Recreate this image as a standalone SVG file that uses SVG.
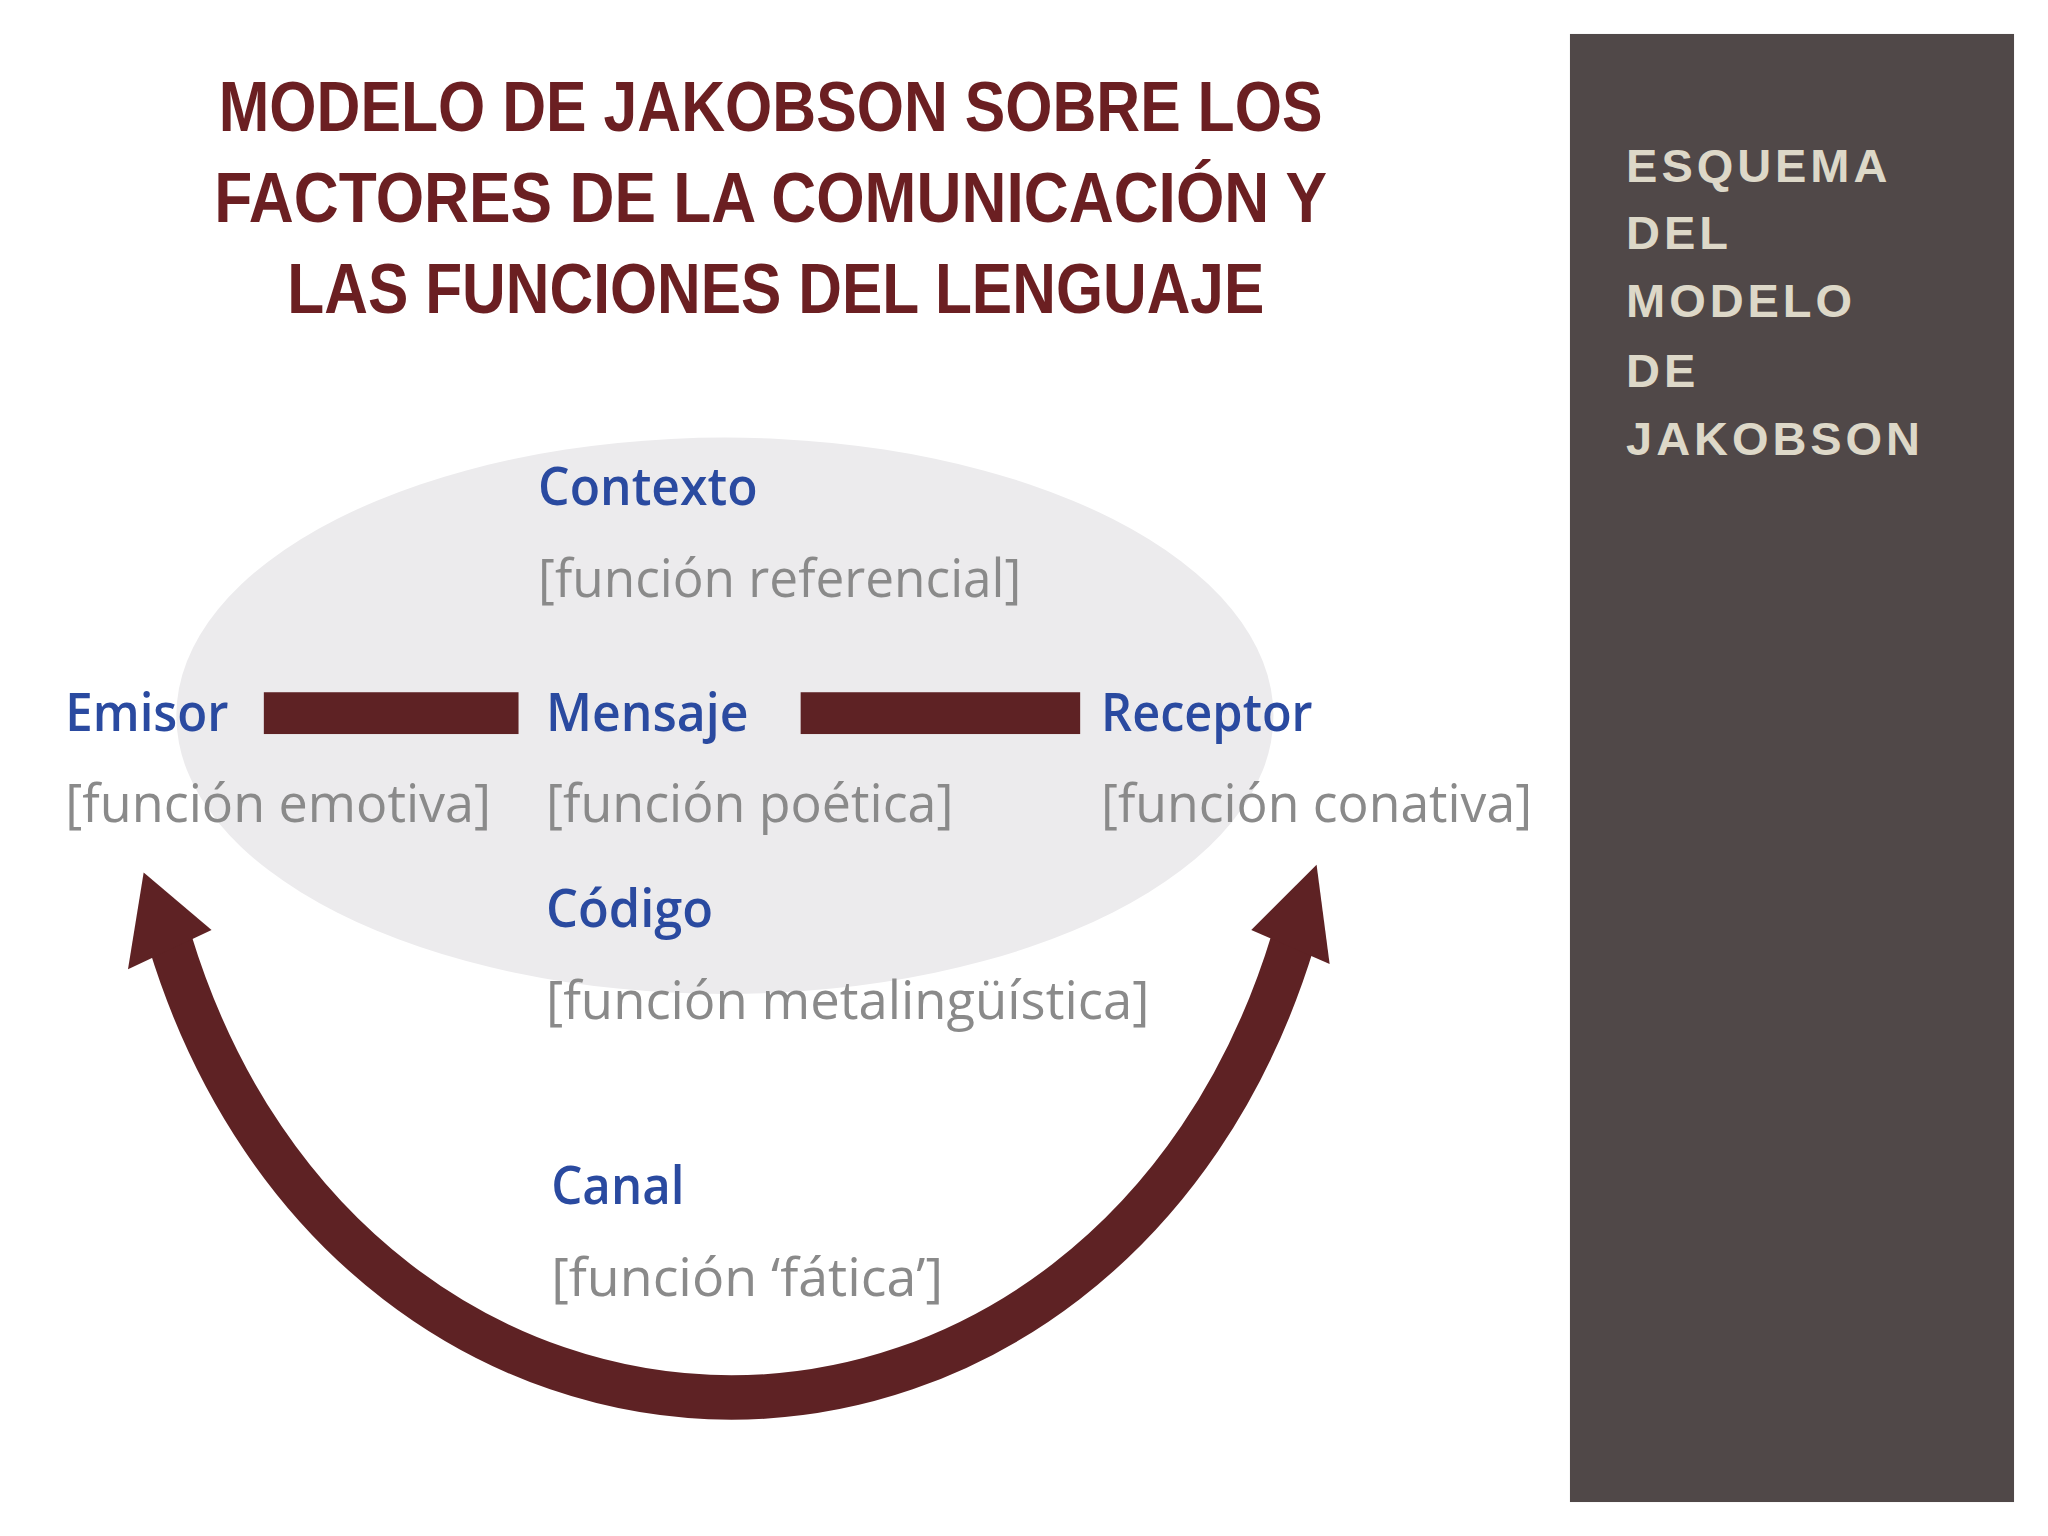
<svg xmlns="http://www.w3.org/2000/svg" width="2048" height="1536" viewBox="0 0 2048 1536">
<style>
.t{font-family:"Liberation Sans",Arial,sans-serif;font-weight:bold;fill:#6b1f22;font-size:54px}
.b{font-family:"Open Sans","Liberation Sans",sans-serif;font-weight:600;fill:#2a4aa0;font-size:40px}
.g{font-family:"Open Sans","Liberation Sans",sans-serif;fill:#8a8a8a;font-size:40px}
.p{font-family:"Liberation Sans",Arial,sans-serif;font-weight:bold;fill:#ddd8c8;font-size:36px;letter-spacing:3px}
</style>
<rect width="2048" height="1536" fill="#fff"/>
<g transform="scale(1.30612)">
<g id="panel"><rect x="1202" y="26" width="340" height="1124" fill="#504848"/>
<text class="p" x="1245" y="139">ESQUEMA</text>
<text class="p" x="1245" y="191">DEL</text>
<text class="p" x="1245" y="243">MODELO</text>
<text class="p" x="1245" y="296">DE</text>
<text class="p" x="1245" y="348">JAKOBSON</text></g>
<g id="title">
<text class="t" x="590" y="100" text-anchor="middle" textLength="845" lengthAdjust="spacingAndGlyphs">MODELO DE JAKOBSON SOBRE LOS</text>
<text class="t" x="590" y="170" text-anchor="middle" textLength="852" lengthAdjust="spacingAndGlyphs">FACTORES DE LA COMUNICACIÓN Y</text>
<text class="t" x="594" y="240" text-anchor="middle" textLength="748" lengthAdjust="spacingAndGlyphs">LAS FUNCIONES DEL LENGUAJE</text></g>
<ellipse cx="555" cy="548" rx="420" ry="213" fill="#ecebed"/>
<g id="connectors" fill="#5e2224">
<rect x="202" y="530" width="195" height="32"/>
<rect x="613" y="530" width="214" height="32"/>
<path d="M130,720 C200,950 380,1070 560,1070 C740,1070 920,950 990,720" fill="none" stroke="#5e2224" stroke-width="34"/>
<polygon points="110,668 98,742 162,712"/>
<polygon points="1008,662 958,712 1018,738"/></g>
<g id="contexto"><text class="b" x="412" y="387" textLength="168" lengthAdjust="spacingAndGlyphs">Contexto</text><text class="g" x="412" y="457" textLength="370" lengthAdjust="spacingAndGlyphs">[función referencial]</text></g>
<g id="emisor"><text class="b" x="50" y="560" textLength="125" lengthAdjust="spacingAndGlyphs">Emisor</text><text class="g" x="50" y="629" textLength="326" lengthAdjust="spacingAndGlyphs">[función emotiva]</text></g>
<g id="mensaje"><text class="b" x="418" y="560" textLength="155" lengthAdjust="spacingAndGlyphs">Mensaje</text><text class="g" x="418" y="629" textLength="312" lengthAdjust="spacingAndGlyphs">[función poética]</text></g>
<g id="receptor"><text class="b" x="843" y="560" textLength="162" lengthAdjust="spacingAndGlyphs">Receptor</text><text class="g" x="843" y="629" textLength="330" lengthAdjust="spacingAndGlyphs">[función conativa]</text></g>
<g id="codigo"><text class="b" x="418" y="710" textLength="128" lengthAdjust="spacingAndGlyphs">Código</text><text class="g" x="418" y="780" textLength="462" lengthAdjust="spacingAndGlyphs">[función metalingüística]</text></g>
<g id="canal"><text class="b" x="422" y="922" textLength="102" lengthAdjust="spacingAndGlyphs">Canal</text><text class="g" x="422" y="992" textLength="300" lengthAdjust="spacingAndGlyphs">[función ‘fática’]</text></g>
</g>
</svg>
